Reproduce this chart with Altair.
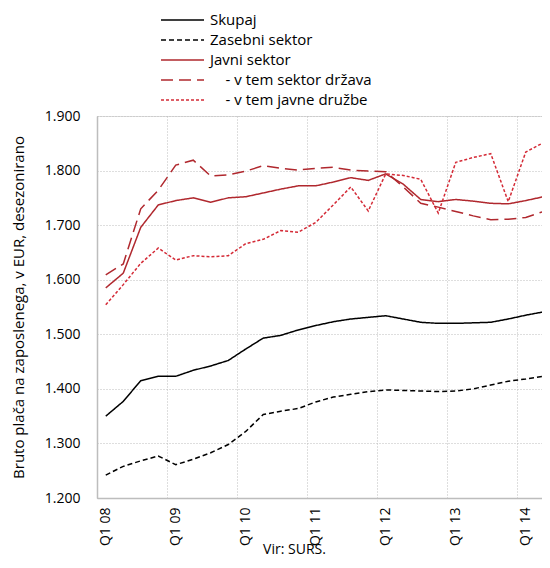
import json
import altair as alt
import pandas as pd

quarters = [f"Q{q} {y:02d}" for y in range(8, 15) for q in range(1, 5)][:26]
tick_labels = ["Q1 08", "Q1 09", "Q1 10", "Q1 11", "Q1 12", "Q1 13", "Q1 14"]
tick_values = [-0.5, 3.5, 7.5, 11.5, 15.5, 19.5, 23.5]  # band boundaries before each Q1

# zero-width space keeps the indent from being trimmed
IND = "\u200b" + "\u00a0" * 4
series_names = [
    "Skupaj",
    "Zasebni sektor",
    "Javni sektor",
    IND + "- v tem sektor država",
    IND + "- v tem javne družbe",
]

skupaj = [1350, 1377, 1415, 1423, 1423, 1434, 1442, 1452, 1473, 1493, 1498, 1508, 1516,
          1523, 1528, 1531, 1534, 1528, 1522, 1520, 1520, 1521, 1522, 1528, 1535, 1541]
zasebni = [1242, 1258, 1268, 1277, 1261, 1271, 1283, 1298, 1322, 1353, 1359, 1364, 1376,
           1385, 1390, 1395, 1398, 1397, 1396, 1395, 1396, 1400, 1407, 1414, 1418, 1423]
javni = [1585, 1612, 1696, 1737, 1745, 1750, 1742, 1750, 1752, 1759, 1766, 1772, 1772,
         1779, 1787, 1782, 1794, 1775, 1747, 1743, 1747, 1744, 1740, 1739, 1745, 1752]
drzava = [1609, 1629, 1730, 1764, 1810, 1819, 1790, 1792, 1799, 1809, 1804, 1801, 1804,
          1806, 1801, 1799, 1798, 1770, 1740, 1733, 1725, 1717, 1710, 1711, 1714, 1725]
druzbe = [1554, 1591, 1630, 1658, 1636, 1644, 1642, 1644, 1666, 1674, 1690, 1687, 1705,
          1737, 1770, 1726, 1794, 1791, 1784, 1722, 1815, 1824, 1831, 1743, 1834, 1851]

series_values = [skupaj, zasebni, javni, drzava, druzbe]

colors = ["#000000", "#000000", "#b0282e", "#b0282e", "#d42a36"]
dashes = [[1, 0], [5, 3], [1, 0], [12, 6], [3, 2]]
widths = [1.5, 1.5, 1.5, 1.5, 1.2]

rows = []
for name, vals in zip(series_names, series_values):
    for i, (q, v) in enumerate(zip(quarters, vals)):
        rows.append({"quarter": q, "qi": i, "series": name, "value": v})
df = pd.DataFrame(rows)

FONT = "Open Sans"

legend = alt.Legend(
    title=None,
    orient="none",
    legendX=63,
    legendY=-104,
    symbolType="stroke",
    symbolSize=1849,
    clipHeight=16,
    labelFont=FONT,
    labelFontSize=15,
    labelColor="#000000",
    labelOffset=5,
    labelLimit=400,
    rowPadding=4,
)

x = alt.X(
    "qi:Q",
    scale=alt.Scale(domain=[-0.5, 25.5], range=[0, 455], nice=False, zero=False),
    axis=alt.Axis(
        values=tick_values,
        labelExpr=json.dumps(tick_labels) + "[round((datum.value + 0.5) / 4)]",
        labelOffset=8.75,
        labelAngle=270,
        labelFlush=False,
        labelOverlap=False,
        labelFont=FONT,
        labelFontSize=14,
        labelColor="#000000",
        labelPadding=9,
        ticks=False,
        domainColor="#bdbdbd",
        domainWidth=1.5,
        grid=True,
        gridColor="#bdbdbd",
        gridDash=[1, 2],
        gridWidth=1,
        title="Vir: SURS.",
        titleFont=FONT,
        titleFontSize=14,
        titleFontWeight="normal",
        titleColor="#000000",
        titleX=197,
        titleY=55,
        titleAlign="center",
        titleBaseline="alphabetic",
    ),
)

y = alt.Y(
    "value:Q",
    scale=alt.Scale(domain=[1200, 1900], nice=False, zero=False),
    axis=alt.Axis(
        values=[1200, 1300, 1400, 1500, 1600, 1700, 1800, 1900],
        labelExpr="replace(format(datum.value, ',.0f'), ',', '.')",
        labelFont=FONT,
        labelFontSize=14,
        labelColor="#000000",
        labelPadding=17,
        ticks=False,
        domainColor="#bdbdbd",
        domainWidth=1.5,
        grid=True,
        gridColor="#bdbdbd",
        gridDash=[1, 2],
        gridWidth=1,
        title="Bruto plača na zaposlenega, v EUR, desezonirano",
        titleFont=FONT,
        titleFontSize=15,
        titleFontWeight="normal",
        titleColor="#000000",
        titleX=-79,
        titleBaseline="middle",
    ),
)

chart = alt.Chart(df).mark_line().encode(
    x=x,
    y=y,
    color=alt.Color("series:N", sort=series_names,
                    scale=alt.Scale(domain=series_names, range=colors), legend=legend),
    strokeDash=alt.StrokeDash("series:N", sort=series_names,
                              scale=alt.Scale(domain=series_names, range=dashes), legend=legend),
    strokeWidth=alt.StrokeWidth("series:N", sort=series_names,
                                scale=alt.Scale(domain=series_names, range=widths), legend=legend),
    order=alt.Order("qi:Q"),
).properties(
    width=445,
    height=382,
    padding={"left": 89, "top": 108, "right": 0, "bottom": 62},
    autosize=alt.AutoSizeParams(type="none"),
).configure_view(stroke=None).configure(background="#ffffff")

chart.save("out.html", embed_options={"renderer": "svg", "actions": False})
